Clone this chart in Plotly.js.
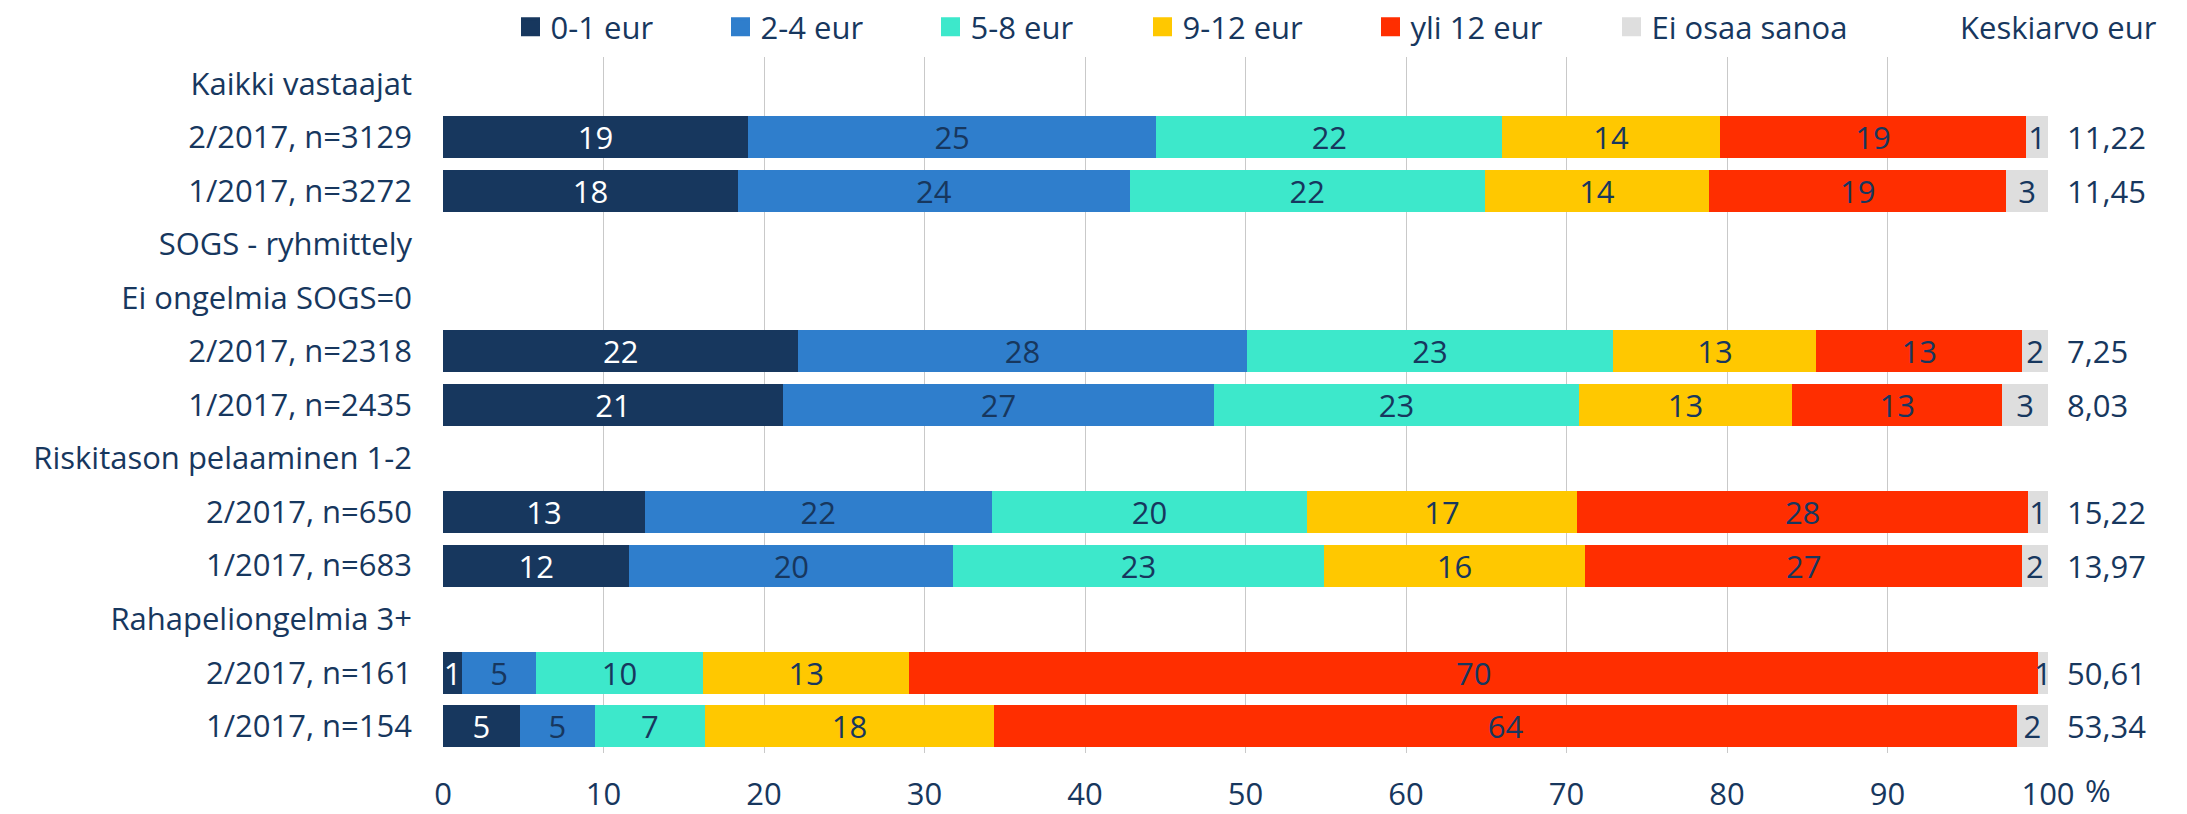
<!DOCTYPE html>
<html><head><meta charset="utf-8">
<script src="https://cdn.plot.ly/plotly-3.0.1.min.js"></script>
<style>html,body{margin:0;padding:0;background:#fff}</style>
</head><body><div id="chart" style="width:2187px;height:814px"></div>
<script>
const categories = [
  "Kaikki vastaajat", "2/2017, n=3129", "1/2017, n=3272",
  "SOGS - ryhmittely", "Ei ongelmia SOGS=0", "2/2017, n=2318", "1/2017, n=2435",
  "Riskitason pelaaminen 1-2", "2/2017, n=650", "1/2017, n=683",
  "Rahapeliongelmia 3+", "2/2017, n=161", "1/2017, n=154"
];
const seriesNames = ["0-1 eur", "2-4 eur", "5-8 eur", "9-12 eur", "yli 12 eur", "Ei osaa sanoa"];
const eur0_1  = [null, 18.99, 18.38, null, null, 22.14, 21.18, null, 12.57, 11.61, null, 1.2, 4.79];
const eur2_4  = [null, 25.46, 24.42, null, null, 27.93, 26.85, null, 21.63, 20.19, null, 4.6, 4.67];
const eur5_8  = [null, 21.55, 22.1, null, null, 22.85, 22.76, null, 19.63, 23.07, null, 10.4, 6.87];
const eur9_12 = [null, 13.55, 14.0, null, null, 12.65, 13.25, null, 16.82, 16.31, null, 12.85, 18.0];
const eurYli12 = [null, 19.1, 18.5, null, null, 12.82, 13.12, null, 28.12, 27.19, null, 70.33, 63.74];
const eiOsaa  = [null, 1.34, 2.59, null, null, 1.6, 2.83, null, 1.22, 1.62, null, 0.61, 1.92];
const keskiarvo = [null, "11,22", "11,45", null, null, "7,25", "8,03", null, "15,22", "13,97", null, "50,61", "53,34"];
const xTickVals = [0, 10, 20, 30, 40, 50, 60, 70, 80, 90, 100];
const meanHeader = "Keskiarvo eur";
const unitLabel = "%";

const colors = ["#17375E", "#2F7ECC", "#3DE8CB", "#FFC800", "#FF2E00", "#DEDEDE"];
const textColors = ["#FFFFFF", "#17375E", "#17375E", "#17375E", "#17375E", "#17375E"];
const navy = "#17375E";
const FONT = "Open Sans, sans-serif";
const FS = 31;

const allSeries = [eur0_1, eur2_4, eur5_8, eur9_12, eurYli12, eiOsaa];
const traces = [];
allSeries.forEach((vals, i) => {
  traces.push({
    type: "bar", orientation: "h", name: seriesNames[i],
    x: vals, y: categories,
    marker: {color: colors[i], line: {width: 0}},
    texttemplate: "%{x:.0f}", textposition: "inside", insidetextanchor: "middle",
    constraintext: "none", textangle: 0, cliponaxis: false,
    textfont: {family: FONT, size: FS, color: textColors[i]},
    showlegend: false, hoverinfo: "x+y+name"
  });
});
// legend proxies (larger squares)
const legendLeft = [521, 731, 941, 1153, 1381, 1622];
allSeries.forEach((vals, i) => {
  traces.push({
    type: "scatter", mode: "markers", name: seriesNames[i],
    x: [null], y: [null],
    marker: {symbol: "square", size: 16, color: colors[i], line: {width: 3, color: colors[i]}},
    showlegend: true, legend: i === 0 ? "legend" : "legend" + (i + 1), hoverinfo: "skip"
  });
});

const W = 2187, H = 814;
const layout = {
  width: W, height: H,
  margin: {l: 443, r: 139, t: 57, b: 61, pad: 0},
  paper_bgcolor: "#fff", plot_bgcolor: "#fff",
  barmode: "stack", bargap: 0.215,
  font: {family: FONT, size: FS, color: navy},
  xaxis: {
    range: [0, 100.0001], tickvals: xTickVals, ticktext: xTickVals.map(String),
    showgrid: true, gridcolor: "#C9C9C9", gridwidth: 1, zeroline: false,
    showline: false, ticks: "", ticklabelstandoff: 20, fixedrange: true,
    tickfont: {family: FONT, size: FS, color: navy}
  },
  yaxis: {
    type: "category", categoryorder: "array", categoryarray: categories,
    autorange: "reversed", showgrid: false, zeroline: false, showline: false,
    ticks: "", ticklabelstandoff: 30, fixedrange: true,
    tickfont: {family: FONT, size: FS, color: navy}
  },
  annotations: [],
  hovermode: "closest"
};
legendLeft.forEach((px, i) => {
  const key = i === 0 ? "legend" : "legend" + (i + 1);
  layout[key] = {
    xref: "container", yref: "container",
    x: (px - 10.5) / W, xanchor: "left",
    y: 1 - 27 / H, yanchor: "middle",
    orientation: "h", bgcolor: "rgba(0,0,0,0)", borderwidth: 0,
    itemwidth: 30, font: {family: FONT, size: FS, color: navy},
    itemclick: false, itemdoubleclick: false
  };
});
categories.forEach((c, i) => {
  if (keskiarvo[i] !== null) {
    layout.annotations.push({
      xref: "x", yref: "y", x: 100, y: c, text: keskiarvo[i],
      xanchor: "left", yanchor: "middle", xshift: 17, showarrow: false,
      font: {family: FONT, size: FS, color: navy}
    });
  }
});
layout.annotations.push({
  xref: "paper", yref: "paper", x: (2159 - 443) / 1605, y: (753 - 27) / 696,
  xanchor: "right", yanchor: "middle", text: meanHeader, showarrow: false,
  font: {family: FONT, size: FS, color: navy}
});
layout.annotations.push({
  xref: "paper", yref: "paper", x: (2098 - 443) / 1605, y: -(790 - 753) / 696,
  xanchor: "center", yanchor: "middle", text: unitLabel, showarrow: false,
  font: {family: FONT, size: FS, color: navy}
});

Plotly.newPlot("chart", traces, layout, {displayModeBar: false, staticPlot: false, responsive: false});
</script>
</body></html>
